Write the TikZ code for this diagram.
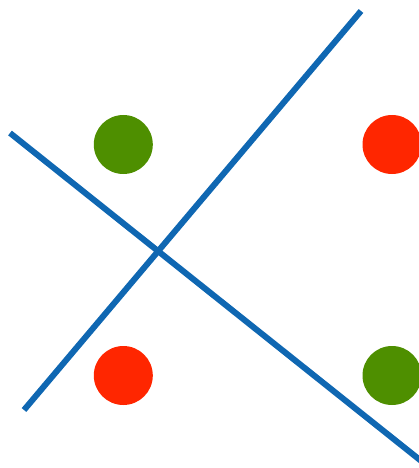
\documentclass[tikz,border=0pt]{standalone}
\definecolor{lineblue}{HTML}{0F67B2}
\definecolor{dotgreen}{HTML}{4E8F00}
\definecolor{dotred}{HTML}{FF2600}
\begin{document}
\begin{tikzpicture}[x=1pt,y=-1pt,
  dot/.style={circle,minimum size=59pt,inner sep=0pt,draw=none},
  sep/.style={draw=lineblue,line width=6pt,line cap=butt}]
\useasboundingbox (0,0) rectangle (419,468);
\clip (0,0) rectangle (419,468);
\node[dot,fill=dotgreen] (g1) at (123.3,144.5) {};
\node[dot,fill=dotred] (r1) at (392,144.5) {};
\node[dot,fill=dotred] (r2) at (123.3,375.5) {};
\node[dot,fill=dotgreen] (g2) at (392,375.5) {};
\coordinate (a1) at (24,410);
\coordinate (a2) at (361,11);
\coordinate (b1) at (10,133);
\coordinate (b2) at (425,464);
\draw[sep] (a1) -- (a2);
\draw[sep] (b1) -- (b2);
\end{tikzpicture}
\end{document}
